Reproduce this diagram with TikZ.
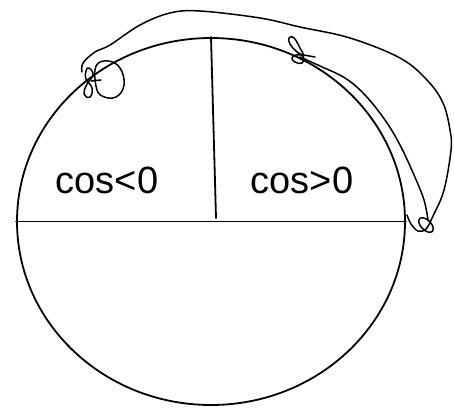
\documentclass[tikz,border=0pt]{standalone}
\usepackage{fontspec}
\setmainfont{Liberation Sans}
\usetikzlibrary{shapes.geometric}
\begin{document}
\begin{tikzpicture}[x=1pt,y=-1pt,
  ink/.style={line width=1.8pt,black,line cap=round,line join=round},
  thin ink/.style={line width=1.5pt,black,line cap=round,line join=round},
  lbl/.style={font=\fontsize{38}{40}\selectfont,inner sep=0pt,anchor=base}]
\useasboundingbox (0,0) rectangle (454,407);
% circle
\node[ink,draw,ellipse,minimum width=388pt,minimum height=367pt,inner sep=0pt] (c) at (211,221.5) {};
\draw[ink] (c.west) -- (c.east);
\coordinate (vb) at (216,218);
\draw[ink] (c.north) -- (vb);
\node[lbl] (neg) at (107,193) {cos<0};
\node[lbl] (pos) at (302,193) {cos>0};
% outer curve
\coordinate (os) at (82,72);
\coordinate (oe) at (407,215);
\draw[thin ink] plot[smooth,tension=0.6] coordinates {(os) (83,63) (95,52) (110,45) (140,25) (170,13) (200,11) (260,18) (300,27) (350,38) (400,58) (427,80) (443,103) (450,130) (451,150) (444,190) (433,216) (426,229) (418,231) (411,224) (oe)};
% inner curve
\coordinate (is) at (300,57);
\coordinate (ie) at (428,220);
\draw[thin ink] plot[smooth,tension=0.6] coordinates {(is) (320,66) (345,78) (365,95) (385,120) (400,145) (414,175) (424,200) (ie)};
% right bottom loop
\draw[thin ink,rotate around={-45:(426,225)}] (426,225) ellipse [x radius=9pt,y radius=5pt];
% left scribbles
\draw[thin ink] plot[smooth cycle,tension=0.7] coordinates {(96,66) (108,61) (120,68) (124,85) (116,97) (102,96) (96,86)};
\draw[thin ink] plot[smooth cycle,tension=0.8] coordinates {(89,68) (93,75) (87,84) (84,94) (90,97) (92,88) (86,79) (86,71)};
\draw[thin ink] (91,81) -- (101,80);
% right scribbles
\draw[thin ink] plot[smooth cycle,tension=0.8] coordinates {(289,38) (294,38) (300,48) (303,55) (296,51) (290,44)};
\draw[thin ink] plot[smooth cycle,tension=0.8] coordinates {(296,55) (303,56) (302,63) (295,62) (292,58)};
\draw[thin ink] (298,54) -- (315,57);
\end{tikzpicture}
\end{document}
